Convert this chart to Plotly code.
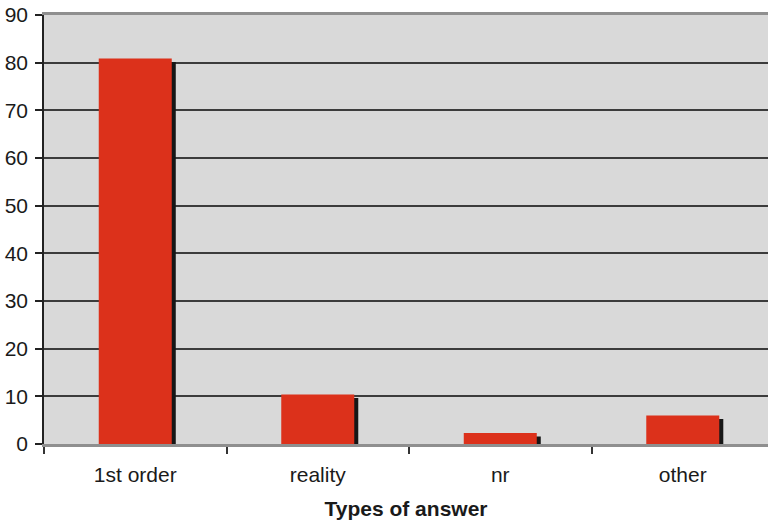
import plotly.graph_objects as go

categories = ["1st order", "reality", "nr", "other"]
values = [80.9, 10.4, 2.3, 6.0]
y_ticks = [0, 10, 20, 30, 40, 50, 60, 70, 80, 90]

FONT = "Liberation Sans, Arial, Helvetica, sans-serif"
BAR_W = 0.4
SHADOW_DX = 0.022   # category units (~4px)
SHADOW_DY = 0.75    # value units (~3.5px)

fig = go.Figure()
# shadow
fig.add_trace(go.Bar(
    x=categories, y=values, base=[-SHADOW_DY] * len(values),
    width=BAR_W, offset=-BAR_W / 2 + SHADOW_DX,
    marker=dict(color="#161616", line=dict(width=0)),
    hoverinfo="skip", showlegend=False,
))
# main bars
fig.add_trace(go.Bar(
    x=categories, y=values,
    width=BAR_W, offset=-BAR_W / 2,
    marker=dict(color="#dc311b", line=dict(width=0)),
    showlegend=False,
))

fig.update_layout(
    width=768, height=525,
    margin=dict(l=44, r=0, t=14.5, b=81.3),
    paper_bgcolor="white",
    plot_bgcolor="#d9d9d9",
    barmode="overlay",
    font=dict(family=FONT, size=21, color="#1a1a1a"),
)
fig.update_xaxes(
    type="category",
    range=[-0.5, 3.467],
    tickson="boundaries",
    ticks="outside", ticklen=7, tickwidth=1.5, tickcolor="#333333",
    showline=True, linecolor="#8f8f8f", linewidth=2.5, mirror=True,
    showgrid=False,
    tickfont=dict(size=21),
    ticklabelstandoff=10,
    title=dict(text="<b>Types of answer</b>", font=dict(size=21), standoff=17),
)
fig.update_yaxes(
    range=[0, 90],
    tickvals=y_ticks,
    ticks="outside", ticklen=7, tickwidth=1.5, tickcolor="#222222",
    showline=True, linecolor="#222222", linewidth=1.5,
    showgrid=True, gridcolor="#3c3c3c", gridwidth=1.5,
    zeroline=False,
    tickfont=dict(size=21),
    ticklabelstandoff=3,
)

fig.write_html("out.html")
